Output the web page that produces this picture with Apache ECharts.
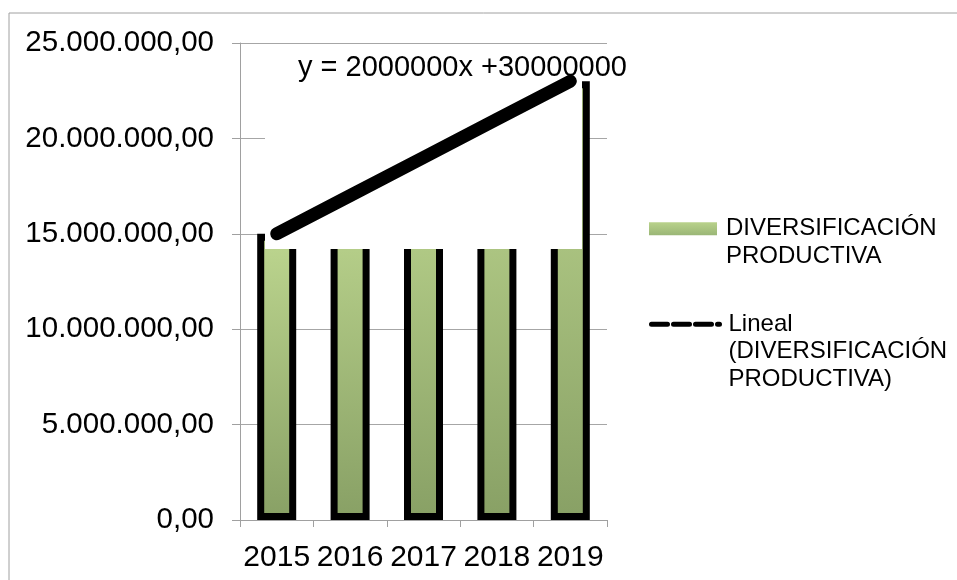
<!DOCTYPE html>
<html>
<head>
<meta charset="utf-8">
<script src="https://cdn.jsdelivr.net/npm/echarts@6/dist/echarts.min.js"></script>
<style>
html,body{margin:0;padding:0;background:#fff;}
#chart{width:957px;height:580px;}
</style>
</head>
<body>
<div id="chart"></div>
<script>
var categories = ['2015', '2016', '2017', '2018', '2019'];
var barValues = [15000000, 17000000, 19000000, 21000000, 23000000];
var trendValues = [15000000, 17000000, 19000000, 21000000, 23000000];
var barName = 'DIVERSIFICACIÓN\nPRODUCTIVA';
var trendName = 'Lineal\n(DIVERSIFICACIÓN\nPRODUCTIVA)';
var trendLabel = 'y = 2000000x +30000000';
var yMin = 0, yMax = 25000000, yStep = 5000000;

var FONT = "'Liberation Sans', Arial, sans-serif";

function fmt(v) {
  var s = Math.round(v).toString();
  s = s.replace(/\B(?=(\d{3})+(?!\d))/g, '.');
  return s + ',00';
}

var barGradient = new echarts.graphic.LinearGradient(0, 0, 0, 1, [
  {offset: 0, color: '#bdd68f'},
  {offset: 1, color: '#88a065'}
]);
var legendGradient = new echarts.graphic.LinearGradient(0, 0, 0, 1, [
  {offset: 0, color: '#b9d28b'},
  {offset: 1, color: '#9ab676'}
]);

var chart = echarts.init(document.getElementById('chart'), null, {renderer: 'canvas'});
var option = {
  animation: false,
  backgroundColor: '#ffffff',
  grid: {left: 240, top: 43, width: 367, height: 477, containLabel: false},
  xAxis: {
    type: 'category',
    data: categories,
    boundaryGap: true,
    axisLine: {show: true, lineStyle: {color: '#a0a0a0', width: 1}},
    axisTick: {show: true, length: 7, lineStyle: {color: '#a0a0a0'}},
    axisLabel: {color: '#000', fontSize: 30, fontFamily: FONT, margin: 23, interval: 0, hideOverlap: false},
    splitLine: {show: false}
  },
  yAxis: {
    type: 'value',
    min: yMin, max: yMax, interval: yStep,
    axisLine: {show: true, lineStyle: {color: '#a0a0a0', width: 1}},
    axisTick: {show: true, length: 8, lineStyle: {color: '#a0a0a0'}},
    axisLabel: {color: '#000', fontSize: 29.5, fontFamily: FONT, margin: 26, formatter: fmt},
    splitLine: {show: true, lineStyle: {color: '#a6a6a6', width: 1}}
  },
  legend: [
    {
      left: 649, top: 186, padding: 0, orient: 'vertical',
      itemWidth: 68, itemHeight: 13,
      formatter: function (n) { return '\n' + n; },
      data: [{name: barName, icon: 'rect', itemStyle: {color: legendGradient, borderWidth: 0}}],
      textStyle: {color: '#000', fontSize: 24, fontFamily: FONT, lineHeight: 27.5, padding: [3, 0, 0, 4]}
    },
    {
      left: 649, top: 254.5, padding: 0, orient: 'vertical',
      itemWidth: 68, itemHeight: 13,
      formatter: function (n) { return '\n\n' + n; },
      data: [{name: trendName, itemStyle: {color: 'rgba(0,0,0,0)', borderWidth: 0, opacity: 0}, lineStyle: {type: [16, 6], width: 5, color: '#000'}}],
      textStyle: {color: '#000', fontSize: 24, fontFamily: FONT, lineHeight: 27.5, padding: [2, 0, 0, 4]}
    }
  ],
  graphic: [
    {type: 'rect', z: 0, silent: true, shape: {x: 9, y: 13, width: 1000, height: 700},
     style: {fill: 'none', stroke: '#a0a0a0', lineWidth: 1}},
    {type: 'rect', z: 5, silent: true, shape: {x: 265, y: 47, width: 317, height: 202},
     style: {fill: '#ffffff'}},
    {type: 'text', z: 20, silent: true, x: 298, y: 68,
     style: {text: trendLabel, fill: '#000', font: '29px ' + FONT, verticalAlign: 'middle', align: 'left'}}
  ],
  series: [
    {
      name: barName,
      type: 'bar',
      z: 2,
      data: barValues,
      barWidth: 39,
      itemStyle: {color: barGradient, borderColor: '#000', borderWidth: 7}
    },
    {
      name: trendName,
      type: 'line',
      z: 10,
      data: trendValues,
      symbol: 'none',
      showSymbol: false,
      itemStyle: {color: '#000'},
      lineStyle: {color: '#000', width: 13, cap: 'round'}
    }
  ]
};
chart.setOption(option);
</script>
</body>
</html>
